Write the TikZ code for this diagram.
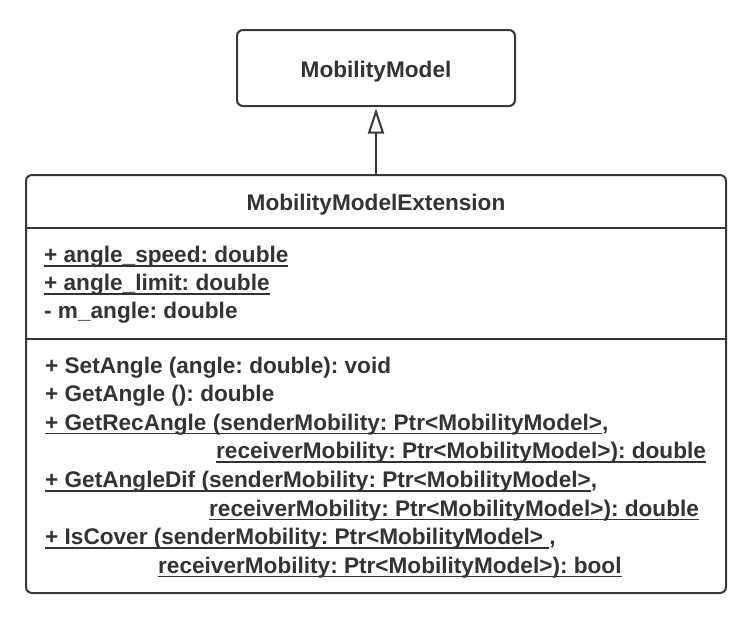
\documentclass[tikz,border=0pt]{standalone}
\usepackage{fontspec}
\setmainfont{Liberation Sans}
\usetikzlibrary{arrows.meta}
\frenchspacing
\definecolor{linegray}{HTML}{33383D}
\definecolor{textgray}{HTML}{333333}
% 带下划线的成员（静态）
\newcommand\ulin[1]{\setbox0=\hbox{#1}\rlap{\color{textgray}\rule[-4.1pt]{\wd0}{1.5pt}}\box0}
\tikzset{
  classbox/.style={draw=linegray, line width=2pt, rounded corners=6pt, fill=white},
  member/.style={font=\fontsize{22.6}{27}\selectfont\bfseries, text=textgray, inner sep=0pt, anchor=base west},
  classname/.style={member, anchor=base},
}
\begin{document}
\begin{tikzpicture}[x=1pt,y=-1pt]
    \useasboundingbox (0,0) rectangle (752,622);
    % 父类
    \node[classbox, minimum width=278pt, minimum height=76pt] (base) at (376,68) {};
    \node[classname] (basename) at (376,77) {MobilityModel};

    % 子类
    \node[classbox, minimum width=700pt, minimum height=418pt] (ext) at (376,384) {};
    \node[classname] (extname) at (376,210) {MobilityModelExtension};
    \draw[linegray, line width=2pt] (ext.west |- 0,228) -- (ext.east |- 0,228);
    \draw[linegray, line width=2pt] (ext.west |- 0,339) -- (ext.east |- 0,339);

    % 属性
    \node[member] (a1) at (44,262.5) {\ulin{+ angle\_speed: double}};
    \node[member] (a2) at (44,290.5) {\ulin{+ angle\_limit: double}};
    \node[member] (a3) at (44,318.5) {- m\_angle: double};

    % 方法
    \node[member] (m1) at (45,373) {+ SetAngle (angle: double): void};
    \node[member] (m2) at (45,401.5) {+ GetAngle (): double};
    \node[member] (m3) at (45,430) {\ulin{+ GetRecAngle (senderMobility: Ptr<MobilityModel>},};
    \node[member] (m4) at (216,458.5) {\ulin{receiverMobility: Ptr<MobilityModel>): double}};
    \node[member] (m5) at (45,487.5) {\ulin{+ GetAngleDif (senderMobility: Ptr<MobilityModel>},};
    \node[member] (m6) at (209,516) {\ulin{receiverMobility: Ptr<MobilityModel>): double}};
    \node[member] (m7) at (45,544.5) {\ulin{+ IsCover (senderMobility: Ptr<MobilityModel> },};
    \node[member] (m8) at (158,573) {\ulin{receiverMobility: Ptr<MobilityModel>): bool}};

    % 继承箭头
    \draw[linegray, line width=2pt, shorten >=1.5pt, -{Triangle[open, length=25pt, width=16pt, fill=white]}] (ext.north) -- (base.south);
\end{tikzpicture}
\end{document}
